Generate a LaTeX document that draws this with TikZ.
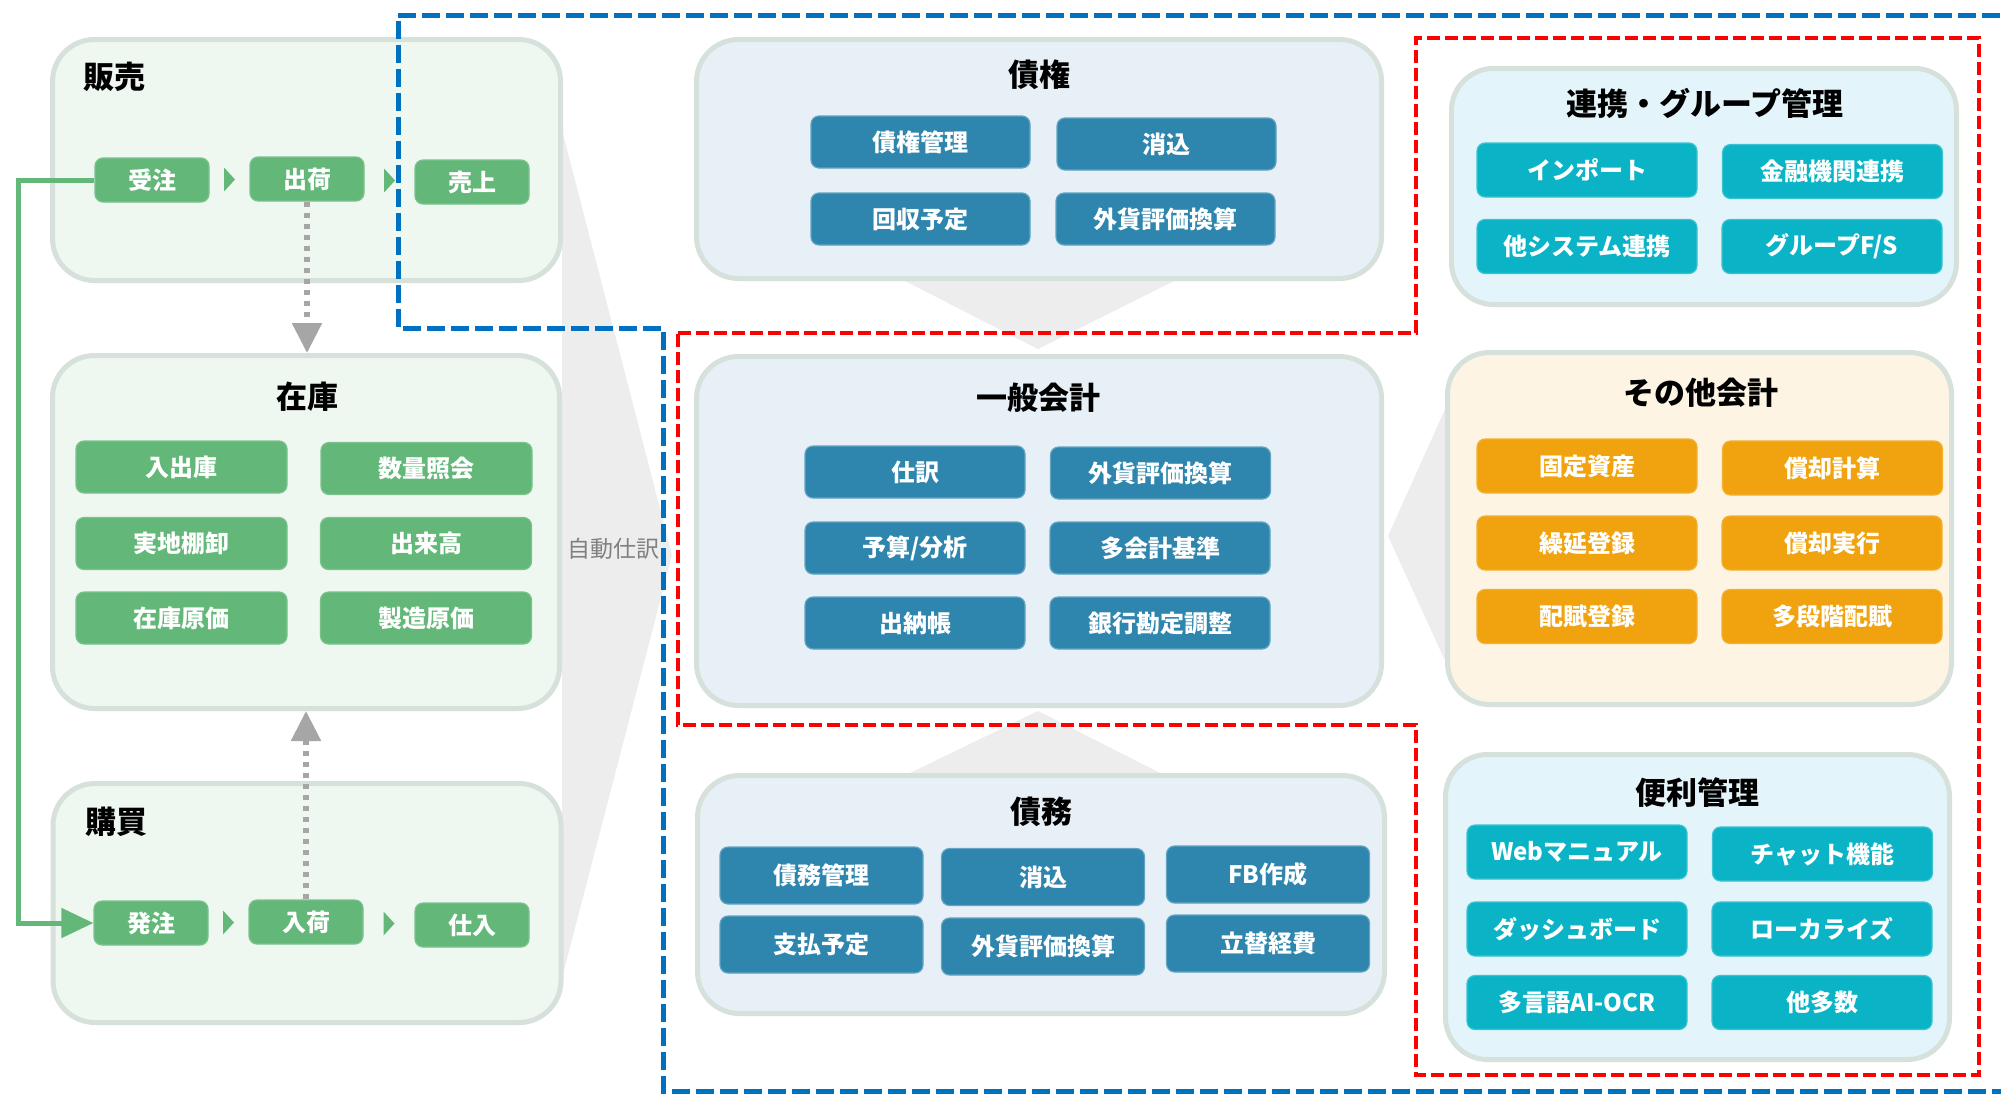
\documentclass[tikz,border=0pt]{standalone}
\usepackage{fontspec}
\setmainfont{Noto Sans CJK JP}
\usetikzlibrary{arrows.meta,calc}
\definecolor{panelborder}{HTML}{D7E1DB}
\definecolor{greenpanel}{HTML}{EEF7F0}
\definecolor{bluepanel}{HTML}{E8F0F7}
\definecolor{cyanpanel}{HTML}{E3F5FA}
\definecolor{creampanel}{HTML}{FDF4E4}
\definecolor{greenbtn}{HTML}{63B879}
\definecolor{bluebtn}{HTML}{2E85AD}
\definecolor{cyanbtn}{HTML}{0AB4C6}
\definecolor{orangebtn}{HTML}{F0A30E}
\definecolor{funnelgray}{HTML}{EDEDED}
\definecolor{dotgray}{HTML}{A6A6A6}
\definecolor{labelgray}{HTML}{808080}
\definecolor{bluedashcol}{HTML}{0070C0}
\definecolor{reddashcol}{HTML}{FF0000}
\begin{document}
\begin{tikzpicture}[x=1pt,y=-1pt,
  panel/.style={draw=panelborder, line width=5pt, rounded corners=42pt, inner sep=0pt},
  ptitle/.style={font=\fontsize{31pt}{35pt}\selectfont\bfseries, text=black, inner sep=0pt},
  btn/.style={rounded corners=8pt, text=white, font=\fontsize{24pt}{28pt}\selectfont\bfseries, inner sep=0pt, line width=1.2pt},
  gbtn/.style={btn, fill=greenbtn, draw=greenbtn!85!white},
  bbtn/.style={btn, fill=bluebtn, draw=bluebtn!75!white, minimum width=219pt, minimum height=52pt},
  cbtn/.style={btn, fill=cyanbtn, draw=cyanbtn!80!white, minimum width=220pt, minimum height=54pt},
  obtn/.style={btn, fill=orangebtn, draw=orangebtn!85!white, minimum width=220pt, minimum height=54pt},
  stepbtn/.style={gbtn, minimum width=114pt, minimum height=44pt},
  invbtn/.style={gbtn, minimum width=211pt, minimum height=52pt},
  apbtn/.style={btn, fill=bluebtn, draw=bluebtn!75!white, minimum width=203pt, minimum height=57pt},
  gdot/.style={draw=dotgray, line width=5.5pt, dash pattern=on 5pt off 6pt, -{Triangle[width=29pt,length=30pt]}},
  gline/.style={draw=greenbtn, line width=5pt, -{Triangle[width=29pt,length=32pt]}},
  bluedash/.style={draw=bluedashcol, line width=5pt, dash pattern=on 18pt off 6pt},
  reddash/.style={draw=reddashcol, line width=4.6pt, dash pattern=on 13pt off 5pt},
]
\useasboundingbox (0,0) rectangle (2001,1093);
\fill[white] (0,0) rectangle (2001,1093);

% gray funnels / pointers
\fill[funnelgray] (562,130) -- (672,555) -- (562,978) -- cycle;
\fill[funnelgray] (903,280) -- (1176,280) -- (1038,349) -- cycle;
\fill[funnelgray] (908,774) -- (1162,774) -- (1038,711) -- cycle;
\fill[funnelgray] (1388,536) -- (1447,405) -- (1447,665) -- cycle;

% panels
\node[panel, fill=greenpanel, minimum width=508pt, minimum height=241pt] (hanbai) at (306.5,160) {};
\node[panel, fill=greenpanel, minimum width=507pt, minimum height=353pt] (zaiko) at (306,532) {};
\node[panel, fill=greenpanel, minimum width=508pt, minimum height=239pt] (kobai) at (307,903) {};
\node[panel, fill=bluepanel, minimum width=685pt, minimum height=239pt] (saiken) at (1039,159) {};
\node[panel, fill=bluepanel, minimum width=685pt, minimum height=349pt] (ippan) at (1039,531) {};
\node[panel, fill=bluepanel, minimum width=687pt, minimum height=238pt] (saimu) at (1041,894.5) {};
\node[panel, fill=cyanpanel, minimum width=505pt, minimum height=236pt] (renkei) at (1704,186.5) {};
\node[panel, fill=creampanel, minimum width=504pt, minimum height=352pt] (sonota) at (1699.5,528.5) {};
\node[panel, fill=cyanpanel, minimum width=504pt, minimum height=305pt] (benri) at (1697.5,907) {};

% titles
\node[ptitle, anchor=west] (t-hanbai) at (83,77) {販売};
\node[ptitle] (t-zaiko) at (307,397) {在庫};
\node[ptitle, anchor=west] (t-kobai) at (85,822) {購買};
\node[ptitle] (t-saiken) at (1039,75) {債権};
\node[ptitle] (t-ippan) at (1038,398) {一般会計};
\node[ptitle] (t-saimu) at (1041,812) {債務};
\node[ptitle] (t-renkei) at (1705,103) {連携・グループ管理};
\node[ptitle] (t-sonota) at (1701,393) {その他会計};
\node[ptitle] (t-benri) at (1697,793) {便利管理};

\node[font=\fontsize{23pt}{27pt}\selectfont, text=labelgray, inner sep=0pt] (jido) at (613,549) {自動仕訳};

% sales flow
\node[stepbtn] (ju) at (152,180) {受注};
\node[stepbtn] (shu) at (307,179) {出荷};
\node[stepbtn] (uri) at (472,182) {売上};
% purchase flow
\node[stepbtn] (hat) at (151,923) {発注};
\node[stepbtn] (nyuka) at (306,922) {入荷};
\node[stepbtn] (shiire) at (472,925) {仕入};

\foreach \a/\b in {ju/shu, shu/uri, hat/nyuka, nyuka/shiire}{
  \fill[greenbtn] ($(\a.east)!0.5!(\b.west)$) ++(-5.5,-12) -- ++(11,12) -- ++(-11,12) -- cycle;
}

% inventory
\node[invbtn] (z1) at (181.5,467) {入出庫};
\node[invbtn] (z2) at (426.5,468.5) {数量照会};
\node[invbtn] (z3) at (181.5,543.5) {実地棚卸};
\node[invbtn] (z4) at (426,543.5) {出来高};
\node[invbtn] (z5) at (181.5,618) {在庫原価};
\node[invbtn] (z6) at (426,618) {製造原価};

% receivables
\node[bbtn] (k1) at (920.5,142) {債権管理};
\node[bbtn] (k2) at (1166.5,144) {消込};
\node[bbtn] (k3) at (920.5,219) {回収予定};
\node[bbtn] (k4) at (1165.5,219) {外貨評価換算};

% general ledger
\node[bbtn, minimum width=220pt] (g1) at (915,472) {仕訳};
\node[bbtn, minimum width=220pt] (g2) at (1160.5,473) {外貨評価換算};
\node[bbtn, minimum width=220pt] (g3) at (915,548) {予算/分析};
\node[bbtn, minimum width=220pt] (g4) at (1160,548) {多会計基準};
\node[bbtn, minimum width=220pt] (g5) at (915,623) {出納帳};
\node[bbtn, minimum width=220pt] (g6) at (1160,623) {銀行勘定調整};

% payables
\node[apbtn] (m1) at (821.5,875.5) {債務管理};
\node[apbtn] (m2) at (1043,877) {消込};
\node[apbtn] (m3) at (1268,874.5) {FB作成};
\node[apbtn] (m4) at (821.5,944.5) {支払予定};
\node[apbtn] (m5) at (1043,946.5) {外貨評価換算};
\node[apbtn] (m6) at (1268,943.5) {立替経費};

% integration
\node[cbtn] (r1) at (1587,170) {インポート};
\node[cbtn] (r2) at (1832.5,171.5) {金融機関連携};
\node[cbtn] (r3) at (1587,246.5) {他システム連携};
\node[cbtn] (r4) at (1832,246.5) {グループF/S};

% other accounting
\node[obtn] (o1) at (1587,466) {固定資産};
\node[obtn] (o2) at (1832.5,468) {償却計算};
\node[obtn] (o3) at (1587,543) {繰延登録};
\node[obtn] (o4) at (1832,543) {償却実行};
\node[obtn] (o5) at (1587,616.5) {配賦登録};
\node[obtn] (o6) at (1832,616.5) {多段階配賦};

% convenience
\node[cbtn] (b1) at (1577,852) {Webマニュアル};
\node[cbtn] (b2) at (1822.5,854) {チャット機能};
\node[cbtn] (b3) at (1577,929) {ダッシュボード};
\node[cbtn] (b4) at (1822,929) {ローカライズ};
\node[cbtn] (b5) at (1577,1002.5) {多言語AI-OCR};
\node[cbtn] (b6) at (1822,1002.5) {他多数};

% connectors
\draw[gdot] (shu.south) -- (shu.south |- zaiko.north);
\draw[gdot] (nyuka.north) -- (nyuka.north |- zaiko.south);
\draw[gline] (ju.west) -- ++(-76,0) |- (hat.west);

% dashed groupings
\draw[bluedash] (398,15) -- (2010,15) -- (2010,1091) -- (663,1091) -- (663,328) -- (398,328) -- cycle;
\draw[reddash] (678,333) -- (1416,333) -- (1416,38) -- (1979,38) -- (1979,1075) -- (1416,1075) -- (1416,725) -- (678,725) -- cycle;
\end{tikzpicture}
\end{document}
